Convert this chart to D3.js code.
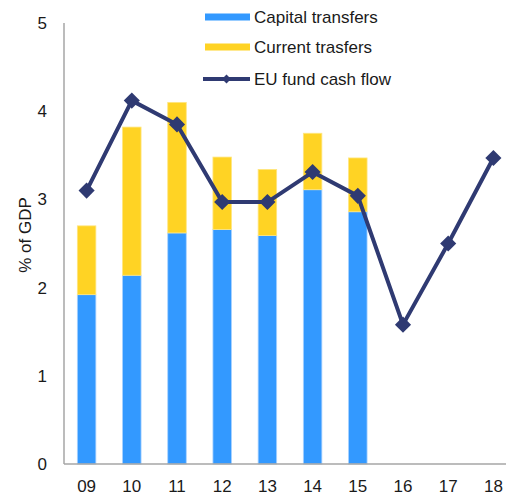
<!DOCTYPE html>
<html>
<head>
<meta charset="utf-8">
<style>
body {
  margin: 0;
  background: #ffffff;
  width: 506px;
  height: 495px;
  overflow: hidden;
}
text {
  font-family: Arial, "Liberation Sans", Helvetica, sans-serif;
  fill: #1a1a1a;
}
.axis path { stroke: #a6a6a6; stroke-width: 1.5; }
.axis line { display: none; }
</style>
</head>
<body>
<svg width="506" height="495"></svg>
<script src="https://d3js.org/d3.v7.min.js"></script>
<script>

var years = ["09", "10", "11", "12", "13", "14", "15", "16", "17", "18"];
var capital = [1.92, 2.14, 2.62, 2.66, 2.59, 3.11, 2.86, null, null, null];
var current = [0.78, 1.68, 1.48, 0.82, 0.75, 0.64, 0.61, null, null, null];
var cashFlow = [3.10, 4.12, 3.85, 2.97, 2.97, 3.31, 3.04, 1.58, 2.50, 3.47];
var yTicks = [0, 1, 2, 3, 4, 5];

var blue = "#3399ff",
    yellow = "#ffd324",
    navy = "#2f3a72";

var svg = d3.select("svg"),
    margin = {top: 23, right: 0, bottom: 31, left: 64},
    height = +svg.attr("height") - margin.top - margin.bottom;

var x = d3.scaleBand().domain(years).range([0, 452]).paddingInner(0.59).paddingOuter(0.295),
    y = d3.scaleLinear().domain([0, 5]).range([height, 0]);

var g = svg.append("g")
    .attr("transform", "translate(" + margin.left + "," + margin.top + ")");

// stacked bars
var rows = years.map(function(d, i) { return {year: d, cap: capital[i], cur: current[i]}; })
    .filter(function(d) { return d.cap != null; });

g.selectAll(".cap").data(rows).enter().append("rect")
    .attr("class", "cap")
    .attr("x", function(d) { return x(d.year); })
    .attr("width", x.bandwidth())
    .attr("y", function(d) { return y(d.cap); })
    .attr("height", function(d) { return y(0) - y(d.cap); })
    .attr("fill", blue)
    .attr("stroke", "#a9d2ff").attr("stroke-width", 0.8);

g.selectAll(".cur").data(rows).enter().append("rect")
    .attr("class", "cur")
    .attr("x", function(d) { return x(d.year); })
    .attr("width", x.bandwidth())
    .attr("y", function(d) { return y(d.cap + d.cur); })
    .attr("height", function(d) { return y(d.cap) - y(d.cap + d.cur); })
    .attr("fill", yellow)
    .attr("stroke", "#ffe680").attr("stroke-width", 0.8);

// axes
var xAxis = g.append("g")
    .attr("class", "axis")
    .attr("transform", "translate(0," + height + ")")
    .call(d3.axisBottom(x).tickSize(0).tickPadding(16));
xAxis.select("path").attr("d", "M0,0H460");
xAxis.selectAll("text").attr("font-size", 17).attr("fill", "#1a1a1a");

var yAxis = g.append("g")
    .attr("class", "axis")
    .call(d3.axisLeft(y).tickValues(yTicks).tickFormat(d3.format("d")).tickSize(0).tickPadding(17));
yAxis.select("path").attr("d", "M0," + height + "V0");
yAxis.selectAll("text").attr("font-size", 17).attr("fill", "#1a1a1a");

svg.append("text")
    .attr("transform", "translate(31,235) rotate(-90)")
    .attr("text-anchor", "middle")
    .attr("font-size", 17)
    .text("% of GDP");

// line
var cx = function(d, i) { return x(years[i]) + x.bandwidth() / 2; };
var line = d3.line().x(cx).y(function(d) { return y(d); });

g.append("path")
    .datum(cashFlow)
    .attr("fill", "none")
    .attr("stroke", navy)
    .attr("stroke-width", 4)
    .attr("stroke-linejoin", "round")
    .attr("d", line);

var diamond = d3.symbol().type(d3.symbolSquare).size(130);
g.selectAll(".pt").data(cashFlow).enter().append("path")
    .attr("class", "pt")
    .attr("transform", function(d, i) { return "translate(" + cx(d, i) + "," + y(d) + ") rotate(45)"; })
    .attr("d", diamond)
    .attr("fill", navy);

// legend
var legend = svg.append("g").attr("transform", "translate(205,0)");
var items = [
  {name: "Capital transfers", type: "rect", color: blue, cy: 17},
  {name: "Current trasfers", type: "rect", color: yellow, cy: 47},
  {name: "EU fund cash flow", type: "line", color: navy, cy: 79}
];
items.forEach(function(it) {
  if (it.type === "rect") {
    legend.append("rect").attr("x", 0).attr("y", it.cy - 3.5)
        .attr("width", 45).attr("height", 7).attr("fill", it.color);
  } else {
    legend.append("line").attr("x1", -2).attr("x2", 45).attr("y1", it.cy).attr("y2", it.cy)
        .attr("stroke", it.color).attr("stroke-width", 4);
    legend.append("path")
        .attr("transform", "translate(21.5," + it.cy + ") rotate(45)")
        .attr("d", d3.symbol().type(d3.symbolSquare).size(40))
        .attr("fill", it.color);
  }
  legend.append("text").attr("x", 49).attr("y", it.cy).attr("dy", "0.35em")
      .attr("font-size", 17).text(it.name);
});

</script>
</body>
</html>
